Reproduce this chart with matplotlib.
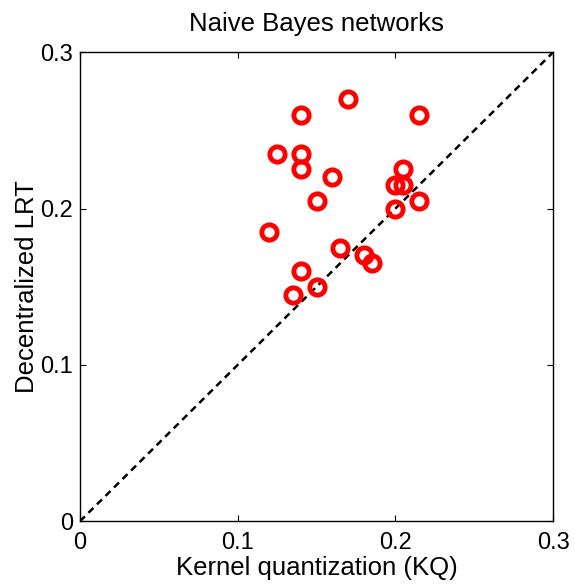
import numpy as np
import matplotlib
matplotlib.use('Agg')
import matplotlib.pyplot as plt

plt.rcParams['font.family'] = ['Liberation Sans', 'DejaVu Sans']

# Kernel quantization vs decentralized LRT
kq = [0.14, 0.17, 0.215, 0.125, 0.14, 0.14, 0.16, 0.205, 0.20, 0.205,
      0.15, 0.215, 0.20, 0.12, 0.165, 0.18, 0.185, 0.14, 0.15, 0.135]
lrt = [0.26, 0.27, 0.26, 0.235, 0.235, 0.225, 0.22, 0.225, 0.215, 0.215,
       0.205, 0.205, 0.20, 0.185, 0.175, 0.17, 0.165, 0.16, 0.15, 0.145]
ticks = [0, 0.1, 0.2, 0.3]
tick_labels = ['0', '0.1', '0.2', '0.3']

fig = plt.figure(figsize=(5.75, 5.87), dpi=100)
ax = fig.add_axes([0.139, 0.112, 0.823, 0.799])

ax.plot([0, 0.3], [0, 0.3], 'k--', lw=1.8, dashes=(2.8, 2.0))
ax.plot(kq, lrt, 'o', mfc='none', mec='red', ms=11, mew=3.5, ls='none')

ax.set_xlim(0, 0.3)
ax.set_ylim(0, 0.3)
ax.set_xticks(ticks)
ax.set_xticklabels(tick_labels)
ax.set_yticks(ticks)
ax.set_yticklabels(tick_labels)
ax.tick_params(direction='in', top=True, right=True, labelsize=17, length=4)
ax.tick_params(axis='x', pad=8)
ax.tick_params(axis='y', pad=5)
for s in ax.spines.values():
    s.set_linewidth(1)

ax.set_title('Naive Bayes networks', fontsize=18.5, pad=15)
ax.set_xlabel('Kernel quantization (KQ)', fontsize=18.5, labelpad=1)
ax.set_ylabel('Decentralized LRT', fontsize=18.5, labelpad=1)

plt.savefig('out.png', dpi=100)
